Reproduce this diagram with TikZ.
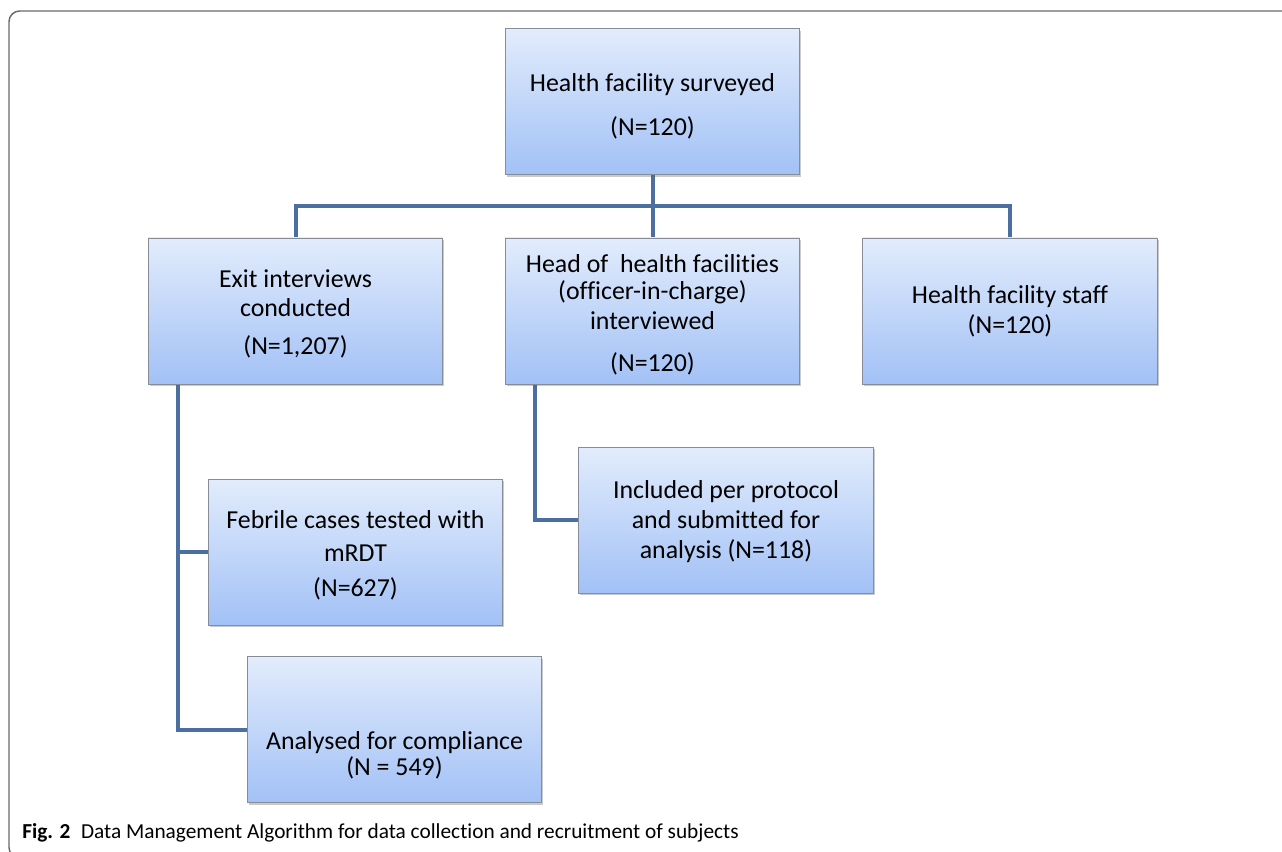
\documentclass[tikz,border=0pt]{standalone}
\usepackage{fontspec}
\setmainfont{Carlito}[Ligatures=NoCommon]
\usetikzlibrary{shadows,calc,backgrounds}
\definecolor{conncol}{RGB}{74,111,160}
\definecolor{boxtop}{RGB}{226,236,252}
\definecolor{boxbot}{RGB}{162,193,246}
\definecolor{boxedge}{RGB}{135,140,150}
\definecolor{framecol}{RGB}{105,105,105}
\tikzset{
  box/.style={rectangle, draw=boxedge, line width=0.6pt, top color=boxtop, bottom color=boxbot,
    minimum width=221pt, minimum height=109.5pt, inner sep=0pt,
    drop shadow={shadow xshift=1.2pt, shadow yshift=-1.8pt, opacity=0.35, fill=black!60}},
  txt/.style={align=center, inner sep=0pt, font=\fontsize{19.4pt}{22.5pt}\selectfont},
  conn/.style={draw=conncol, line width=3pt, line join=miter},
  frame/.style={draw=framecol, line width=1.1pt}
}
\begin{document}
\begin{tikzpicture}[x=0.75pt,y=-0.75pt]
\useasboundingbox (0,0) rectangle (1282,852);
\clip (0,0) rectangle (1282,852);
\draw[frame, rounded corners=8pt] (1300,11) -- (9,11) -- (9,858) -- (1300,858);

\coordinate (bar) at (652.5,206);
\coordinate (exitdrop) at (178,384);
\coordinate (headdrop) at (535,384);

\node[box, label={[txt, yshift=-3.75pt]center:{Health facility surveyed\\[10.5pt](N=120)}}] (top) at (652.5,101.5) {};
\node[box, label={[txt, yshift=-2pt]center:{Exit interviews\\[-0.75pt]conducted\\[6pt](N=1,207)}}] (exit) at (295.5,311) {};
\node[box, label={[txt, yshift=-2.5pt]center:{Head of~ health facilities\\[-2.25pt](officer-in-charge)\\interviewed\\[9pt](N=120)}}] (head) at (652.5,311) {};
\node[box, label={[txt]center:{Health facility staff\\(N=120)}}] (staff) at (1010,311) {};
\node[box, label={[txt, yshift=-2.25pt]center:{Febrile cases tested with\\[2.25pt]mRDT\\[3.75pt](N=627)}}] (febrile) at (355.5,552) {};
\node[box, label={[txt, yshift=-1.5pt]center:{Included per protocol\\and submitted for\\analysis (N=118)}}] (included) at (726,520) {};
\node[box, label={[txt, yshift=-19.5pt]center:{Analysed for compliance\\[-3pt](N = 549)}}] (analysed) at (394.5,729.5) {};

\begin{scope}[on background layer]
\draw[conn] (top.south) -- (head.north);
\draw[conn] (exit.north) -- (exit.north |- bar) -- (staff.north |- bar) -- (staff.north);
\draw[conn] (exitdrop) |- (analysed.west);
\draw[conn] (exitdrop |- febrile.west) -- (febrile.west);
\draw[conn] (headdrop) |- (included.west);
\end{scope}

\node[anchor=base west, inner sep=0pt, font=\fontsize{16pt}{19pt}\selectfont] (caption) at (22,838)
  {\textbf{Fig. 2}\hspace{8pt}Data Management Algorithm for data collection and recruitment of subjects};
\end{tikzpicture}
\end{document}
